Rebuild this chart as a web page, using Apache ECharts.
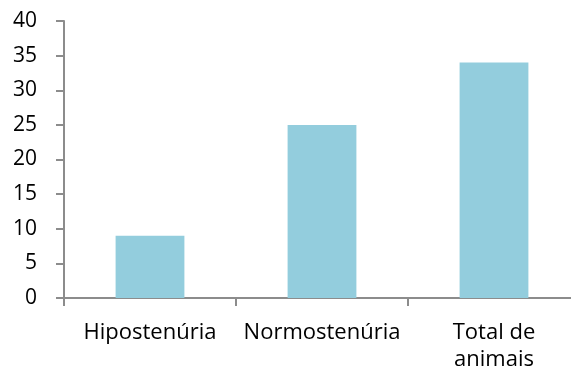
<!DOCTYPE html>
<html>
<head>
<meta charset="utf-8">
<script src="https://cdn.jsdelivr.net/npm/echarts@6/dist/echarts.min.js"></script>
<style>
  html, body { margin: 0; padding: 0; background: #fff; overflow: hidden; }
  #chart { width: 580px; height: 376px; }
</style>
</head>
<body>
<div id="chart"></div>
<script>
// Urine specific gravity groups and animal counts
const categories = ['Hipostenúria', 'Normostenúria', 'Total de\nanimais'];
const counts = [9, 25, 34];
const yTicks = { min: 0, max: 40, interval: 5 };

const chart = echarts.init(document.getElementById('chart'), null, { renderer: 'canvas' });
const axisGray = '#8c8c8c';
const font = '"Open Sans", "Liberation Sans", sans-serif';

chart.setOption({
  animation: false,
  grid: { left: 64, right: 0, top: 21, bottom: 78 },
  xAxis: {
    type: 'category',
    data: categories,
    axisLine: { lineStyle: { color: axisGray, width: 2 } },
    axisTick: { show: true, length: 8, alignWithLabel: false, lineStyle: { color: axisGray, width: 2 } },
    axisLabel: { color: '#000', fontSize: 22, fontFamily: font, margin: 21, lineHeight: 27, interval: 0 }
  },
  yAxis: {
    type: 'value',
    min: yTicks.min,
    max: yTicks.max,
    interval: yTicks.interval,
    splitLine: { show: false },
    axisLine: { show: true, lineStyle: { color: axisGray, width: 2 } },
    axisTick: { show: true, length: 8, lineStyle: { color: axisGray, width: 2 } },
    axisLabel: { color: '#000', fontSize: 21, fontFamily: font, margin: 27 }
  },
  series: [{
    type: 'bar',
    data: counts,
    barWidth: '40%',
    itemStyle: { color: '#93CDDD' }
  }]
});
</script>
</body>
</html>
